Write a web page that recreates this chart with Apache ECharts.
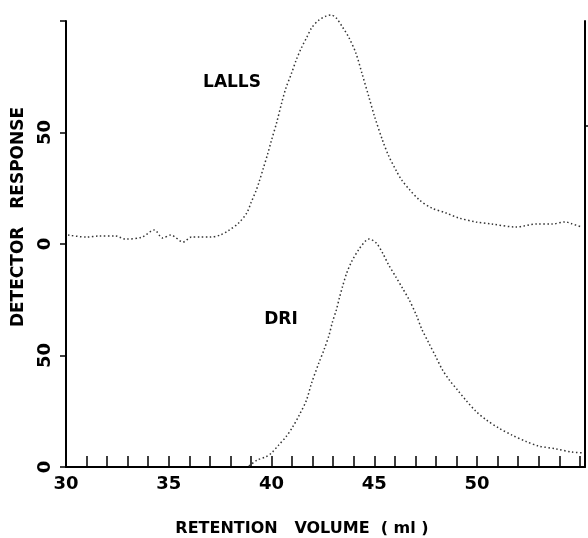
<!DOCTYPE html>
<html>
<head>
<meta charset="utf-8">
<script src="https://cdn.jsdelivr.net/npm/echarts@6/dist/echarts.min.js"></script>
<style>html,body{margin:0;padding:0;background:#fff}#c{width:588px;height:538px}</style>
</head>
<body>
<div id="c"></div>
<script>
// Retention volume (ml) and LALLS response (relative to its own baseline zero, plotted in the upper panel)
var lallsX = [30.1,31.0,31.6,32.4,32.9,33.7,34.3,34.7,35.1,35.7,36.1,36.5,37.0,37.5,37.9,38.4,38.8,39.0,39.25,39.4,39.6,39.8,40.0,40.25,40.5,40.7,40.95,41.2,41.45,41.7,41.95,42.3,42.65,42.9,43.15,43.45,43.75,44.1,44.4,44.75,45.0,45.4,45.7,46.1,46.35,46.7,47.2,47.8,48.5,49.1,49.95,50.7,51.9,52.9,53.65,54.3,54.6,55.1];
var lallsY = [4.0,3.1,3.6,3.6,2.2,3.1,6.3,2.7,4.0,0.9,3.1,3.1,3.1,4.0,6.0,9.4,14.0,18.5,24.0,28.0,34.0,40.0,46.6,54.5,63.5,70.0,76.0,82.5,87.9,92.4,96.9,100.4,102.2,102.7,101.3,97.3,92.8,85.7,76.5,65.5,57.5,46.5,39.5,32.3,28.5,24.5,19.7,16.1,13.9,11.7,9.9,9.0,7.6,9.0,9.0,9.9,9.1,7.6];
// DRI response (lower panel)
var driX = [38.9,39.3,39.7,40.0,40.35,40.7,41.0,41.35,41.7,41.95,42.3,42.55,42.8,42.95,43.15,43.3,43.45,43.65,43.9,44.25,44.6,44.75,45.1,45.4,45.7,46.05,46.35,46.7,47.05,47.3,47.65,48.0,48.3,48.65,49.05,49.45,49.95,50.45,51.05,51.7,52.4,53.0,53.85,54.6,55.2];
var driY = [0.4,3.1,4.5,6.3,9.9,13.5,17.5,23.3,30.0,37.7,46.6,52.5,59.2,64.6,70.4,75.8,80.8,86.8,92.2,97.6,101.6,102.2,100.4,96.0,90.6,85.2,80.5,74.9,68.0,62.0,55.6,49.3,43.8,39.0,34.5,30.0,24.9,21.1,17.5,14.3,11.4,9.4,8.1,6.7,6.3];
var xTickLabels = [30,35,40,45,50];
var yTickLabels = ['0','50','0','50',''];
var lallsOffset = 100;

var lallsData = lallsX.map(function(x,i){return [x, lallsY[i] + lallsOffset];});
var driData = driX.map(function(x,i){return [x, driY[i]];});

var FONT = 'DejaVu Sans';
var chart = echarts.init(document.getElementById('c'));
var dotted = {color:'#333', width:1.5, type:[1.5,2.5]};
chart.setOption({
  animation:false,
  backgroundColor:'#fff',
  grid:{left:66, right:3, top:21, bottom:71, containLabel:false},
  xAxis:{
    type:'value', min:30, max:55.25, interval:1,
    axisLine:{lineStyle:{color:'#000', width:2}},
    axisTick:{inside:true, length:11, lineStyle:{color:'#000', width:1.5}},
    axisLabel:{
      margin:8, color:'#000', fontFamily:FONT, fontWeight:'bold', fontSize:18,
      formatter:function(v){ return xTickLabels.indexOf(v) >= 0 ? String(v) : ''; }
    },
    splitLine:{show:false}
  },
  yAxis:[{
    type:'value', min:0, max:200, interval:50,
    axisLine:{show:true, lineStyle:{color:'#000', width:2}},
    axisTick:{show:true, inside:false, length:6, lineStyle:{color:'#000', width:1.5}},
    axisLabel:{
      rotate:90, margin:12, color:'#000', fontFamily:FONT, fontWeight:'bold', fontSize:18,
      formatter:function(v){ return yTickLabels[Math.round(v/50)]; }
    },
    splitLine:{show:false}
  },{
    type:'value', min:0, max:200, position:'right',
    axisLine:{show:true, lineStyle:{color:'#000', width:2}},
    axisTick:{show:true, inside:false, length:5, customValues:[153], lineStyle:{color:'#000', width:1.5}},
    axisLabel:{show:false},
    splitLine:{show:false}
  }],
  graphic:[
    {type:'text', x:19, y:217, rotation:Math.PI/2, style:{text:'DETECTOR   RESPONSE', fill:'#000', font:'bold 17px "DejaVu Sans"', align:'center', verticalAlign:'middle'}},
    {type:'text', x:302, y:529, style:{text:'RETENTION   VOLUME  ( ml )', fill:'#000', font:'bold 16px "DejaVu Sans"', align:'center', verticalAlign:'middle'}},
    {type:'text', x:232, y:83, style:{text:'LALLS', fill:'#000', font:'bold 17px "DejaVu Sans"', align:'center', verticalAlign:'middle'}},
    {type:'text', x:281, y:320, style:{text:'DRI', fill:'#000', font:'bold 17px "DejaVu Sans"', align:'center', verticalAlign:'middle'}}
  ],
  series:[
    {name:'LALLS', type:'line', data:lallsData, showSymbol:false, lineStyle:dotted, smooth:0.3, clip:false},
    {name:'DRI', type:'line', data:driData, showSymbol:false, lineStyle:dotted, smooth:0.3, clip:false}
  ]
});
</script>
</body>
</html>
